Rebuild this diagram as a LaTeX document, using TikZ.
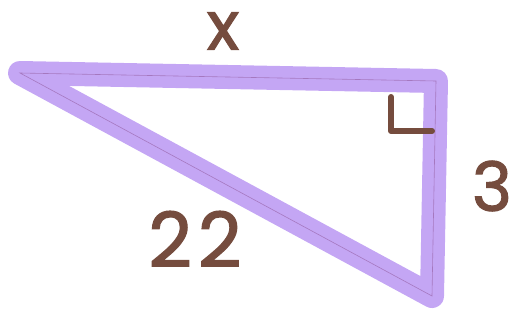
\documentclass[tikz,border=0pt]{standalone}
\usepackage{fontspec}
\newfontfamily\handfont[FakeBold=1.6]{Poppins}
\usepackage{xcolor}
\definecolor{lavender}{RGB}{196,166,244}
\definecolor{ink}{RGB}{117,76,62}

\begin{document}
\begin{tikzpicture}[x=1pt, y=-1pt,
  marker/.style={draw=lavender, line width=24pt, line join=round, line cap=round},
  pencil/.style={draw=violet!50!gray, line width=0.6pt, opacity=0.45},
  lbl/.style={text=ink, inner sep=0pt, font=\handfont\fontsize{#1}{#1}\selectfont},
  lbl/.default=68,
  rightmark/.style={draw=ink, line width=6pt, line cap=round, line join=round},
]
\useasboundingbox (0,0) rectangle (515,322);
% corners of the triangle
\coordinate (left) at (20,73);
\coordinate (top) at (436,81);
\coordinate (bottom) at (432,296);
\draw[marker] (left) -- (top) -- (bottom) -- cycle;
\draw[pencil] (left) -- (top) -- (bottom) -- cycle;
% right angle
\coordinate (mark) at (391,97);
\draw[rightmark] (mark) |- ++(41,34);
% side labels
\node[lbl] (sidex) at (223,31) {x};
\node[lbl] (side3) at (492,186) {3};
\node[lbl=76] (side22) at (195,239) {2\kern6pt2};
\end{tikzpicture}
\end{document}
